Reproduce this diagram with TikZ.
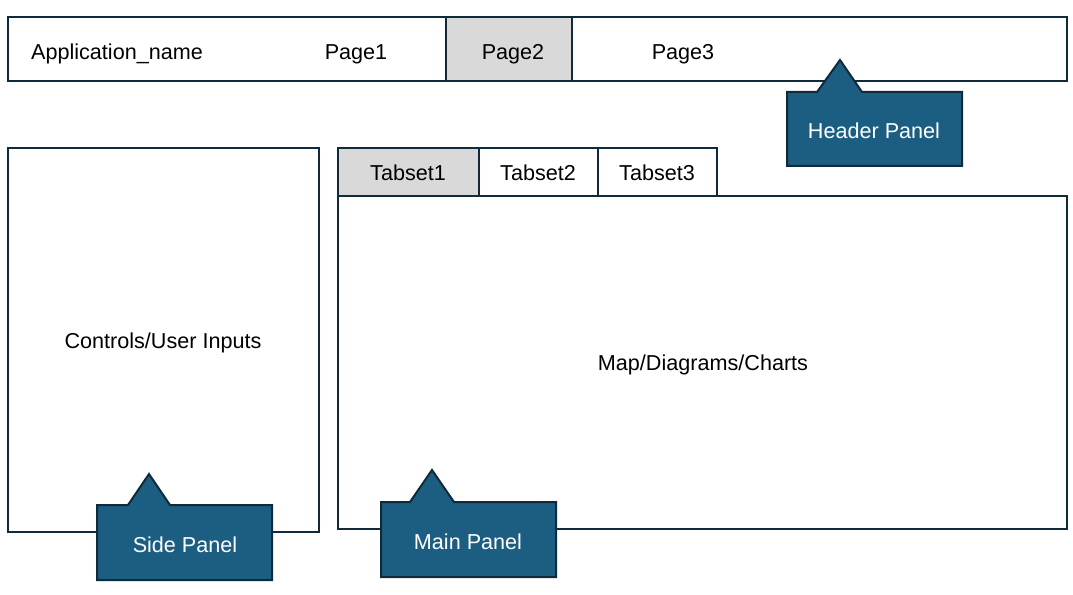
\documentclass[tikz,border=0pt]{standalone}
\usepackage{fontspec}
\setmainfont{Liberation Sans}
\usepackage{tikz}
\usetikzlibrary{calc}
\definecolor{linedark}{HTML}{0F2A3A}
\definecolor{calloutblue}{HTML}{1B5E82}
\definecolor{tabgray}{HTML}{D9D9D9}

\begin{document}
\begin{tikzpicture}[x=0.75pt, y=-0.75pt, line width=1.5pt,
    box/.style = {draw = linedark},
    callout/.style = {draw = linedark, fill = calloutblue, line join = miter},
    label/.style = {font = \fontsize{16.2}{19}\selectfont, text = black},
    tag/.style = {font = \fontsize{16.2}{19}\selectfont, text = white}]
    \useasboundingbox (0,0) rectangle (1073,595);

    % header bar
    \draw[box] (8,17) rectangle (1067,81);
    \draw[box, fill = tabgray] (446,17) rectangle (572,81);
    \node[label] (appname) at (117,54) {Application\_name};
    \node[label] (page1) at (356,54) {Page1};
    \node[label] (page2) at (513,54) {Page2};
    \node[label] (page3) at (683,54) {Page3};

    % side panel
    \draw[box] (8,148) rectangle (319,532);
    \node[label] (controls) at (163,343) {Controls/User Inputs};

    % main panel with tabs
    \draw[box] (338,196) rectangle (1067,529);
    \draw[box, fill = tabgray] (338,148) rectangle (479,196);
    \draw[box] (479,148) rectangle (598,196);
    \draw[box] (598,148) rectangle (717,196);
    \node[label] (tab1) at (408,173) {Tabset1};
    \node[label] (tab2) at (538,173) {Tabset2};
    \node[label] (tab3) at (657,173) {Tabset3};
    \node[label] (charts) at (703,365) {Map/Diagrams/Charts};

    % callouts
    \draw[callout] (787,92) -- (817,92) -- (840,60) -- (862,92) -- (962,92)
      -- (962,166) -- (787,166) -- cycle;
    \node[tag] (headertag) at (874,131) {Header Panel};

    \draw[callout] (97,505) -- (128,505) -- (149,474) -- (170,505) -- (272,505)
      -- (272,580) -- (97,580) -- cycle;
    \node[tag] (sidetag) at (185,545) {Side Panel};

    \draw[callout] (381,502) -- (410,502) -- (432,470) -- (454,502) -- (556,502)
      -- (556,577) -- (381,577) -- cycle;
    \node[tag] (maintag) at (468,542) {Main Panel};
  \end{tikzpicture}
\end{document}
